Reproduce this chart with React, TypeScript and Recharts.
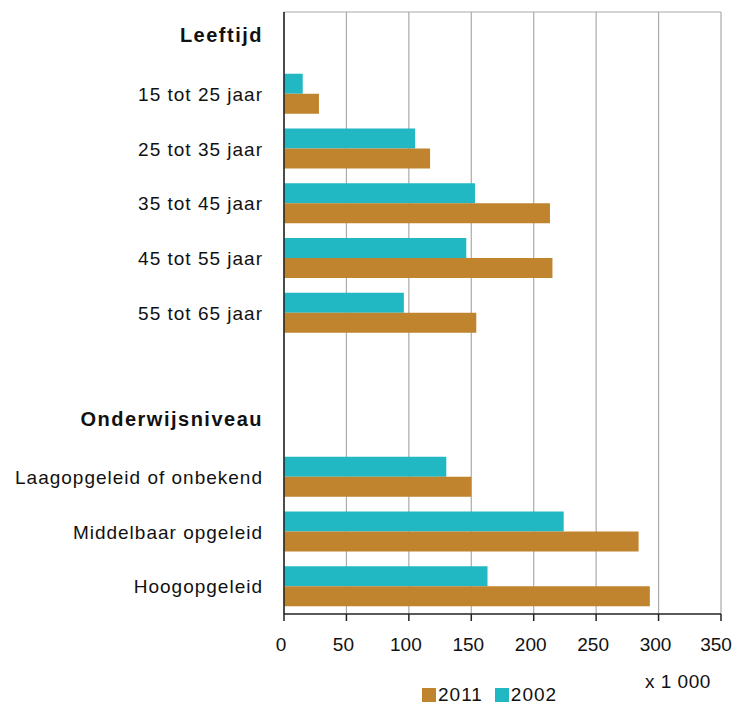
import React from 'react';
import {
  BarChart,
  Bar,
  XAxis,
  YAxis,
  CartesianGrid,
  Legend,
} from 'recharts';

// categories top to bottom; header rows and the spacer row carry no values
const categories = [
  'Leeftijd',
  '15 tot 25 jaar',
  '25 tot 35 jaar',
  '35 tot 45 jaar',
  '45 tot 55 jaar',
  '55 tot 65 jaar',
  '',
  'Onderwijsniveau',
  'Laagopgeleid of onbekend',
  'Middelbaar opgeleid',
  'Hoogopgeleid',
];
const headers = ['Leeftijd', 'Onderwijsniveau'];

const values2002 = [null, 15, 105, 153, 146, 96, null, null, 130, 224, 163];
const values2011 = [null, 28, 117, 213, 215, 154, null, null, 150, 284, 293];

const xTicks = [0, 50, 100, 150, 200, 250, 300, 350];

const BROWN = '#C0832E';
const TEAL = '#21B8C4';
const FONT = '"Liberation Sans", Arial, sans-serif';

const data = categories.map((name, i) => ({
  name,
  y2002: values2002[i],
  y2011: values2011[i],
}));

const CategoryTick = (props: any) => {
  const { x, y, payload } = props;
  const isHeader = headers.includes(payload.value);
  return (
    <text
      x={x}
      y={isHeader ? y - 4 : y}
      dy="0.355em"
      textAnchor="end"
      fill="#111"
      fontFamily={FONT}
      fontSize={isHeader ? 20 : 19}
      fontWeight={isHeader ? 'bold' : 'normal'}
      letterSpacing={isHeader ? 1.5 : 1}
    >
      {payload.value}
    </text>
  );
};

// labels sit a little left of their tick, as in the source
const ValueTick = (props: any) => {
  const { x, y, payload } = props;
  const shift = payload.value === 350 ? 5 : 3;
  return (
    <text x={x - shift} y={y} dy="0.71em" textAnchor="middle" fill="#111" fontFamily={FONT} fontSize={19}>
      {payload.value}
    </text>
  );
};

const LegendBox = () => (
  <div style={{ position: 'relative', height: 37, fontFamily: FONT, fontSize: 19, color: '#111' }}>
    <span style={{ position: 'absolute', left: 637, top: 4, lineHeight: '20px', letterSpacing: 0.5 }}>
      x 1 000
    </span>
    <div style={{ position: 'absolute', left: 414, top: 17, display: 'flex', alignItems: 'center', lineHeight: '20px' }}>
      <span style={{ width: 14, height: 14, background: BROWN, display: 'inline-block', marginRight: 2 }} />
      <span style={{ letterSpacing: 1, marginRight: 12 }}>2011</span>
      <span style={{ width: 14, height: 14, background: TEAL, display: 'inline-block', marginRight: 2 }} />
      <span style={{ letterSpacing: 1 }}>2002</span>
    </div>
  </div>
);

const App: React.FC = () => (
  <BarChart
    width={732}
    height={698}
    data={data}
    layout="vertical"
    margin={{ top: 4, right: 19, left: 0, bottom: 52 }}
    barSize={20}
    barGap={0}
  >
    <CartesianGrid
      vertical
      horizontalPoints={[4]}
      stroke="#aaa"
      strokeWidth={1.2}
    />
    <XAxis
      type="number"
      domain={[0, 350]}
      ticks={xTicks}
      height={40}
      tickSize={7}
      tickMargin={17}
      axisLine={{ stroke: '#222', strokeWidth: 1.5 }}
      tickLine={{ stroke: '#222', strokeWidth: 1.5 }}
      tick={<ValueTick />}
    />
    <YAxis
      type="category"
      dataKey="name"
      width={276}
      interval={0}
      tickSize={0}
      tickMargin={21}
      tickLine={false}
      axisLine={{ stroke: '#222', strokeWidth: 1.5 }}
      tick={<CategoryTick />}
    />
    <Legend
      layout="horizontal"
      verticalAlign="middle"
      align="center"
      wrapperStyle={{ position: 'absolute', top: 660, left: 0, width: 732 }}
      content={<LegendBox />}
    />
    <Bar dataKey="y2002" name="2002" fill={TEAL} isAnimationActive={false} />
    <Bar dataKey="y2011" name="2011" fill={BROWN} isAnimationActive={false} />
  </BarChart>
);

export default App;
